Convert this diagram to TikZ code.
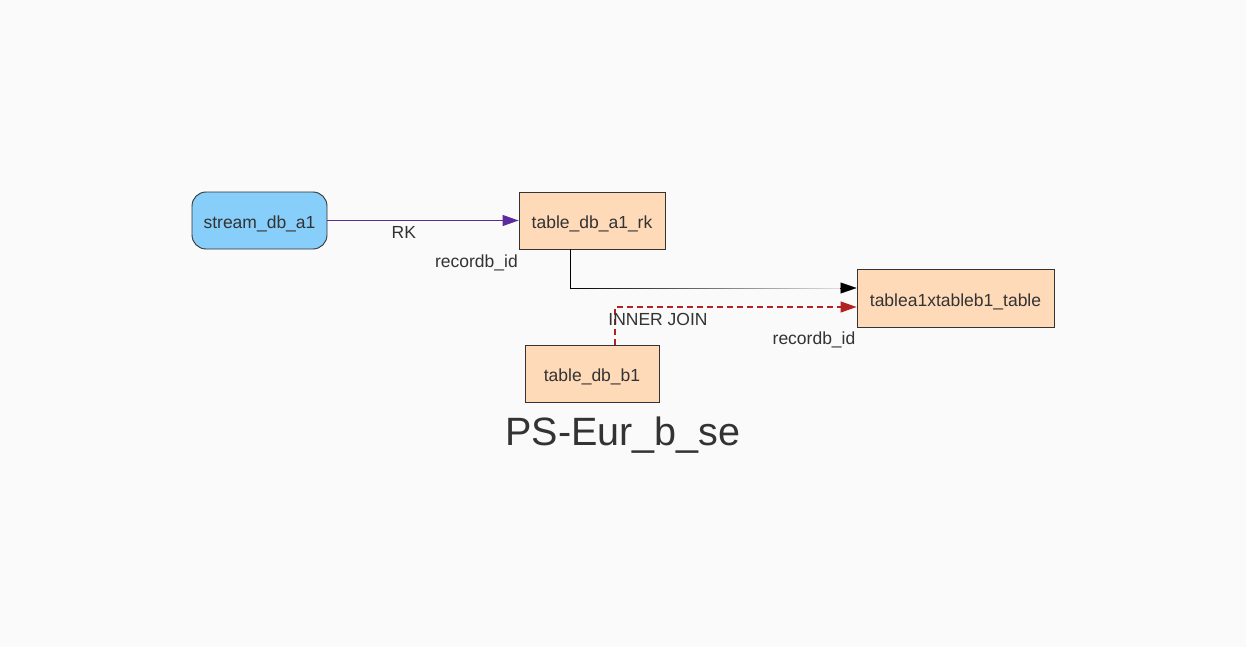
\documentclass[tikz,border=0pt]{standalone}
\usepackage{fontspec}
\setmainfont{Liberation Sans}
\usetikzlibrary{positioning, arrows.meta, fadings}
\definecolor{bgcol}{HTML}{FAFAFA}
\definecolor{ink}{HTML}{333333}
\definecolor{peach}{HTML}{FFDAB9}
\definecolor{skyblue}{HTML}{87CEFA}
\definecolor{rkpurple}{HTML}{5B2A9C}
\definecolor{joinred}{HTML}{B22222}
\tikzfading[name=fadeout, left color=transparent!0, right color=transparent!95]
\tikzset{
    x=1pt, y=-1pt,
    on grid,
    node distance=150pt,
    box/.style={draw=ink, line width=0.9pt, text=ink, minimum height=57pt,
        text height=18.5pt, text depth=2pt, font=\fontsize{17.5}{20}\selectfont},
    tablebox/.style={box, fill=peach},
    streambox/.style={box, fill=skyblue, rounded corners=14pt},
    lbl/.style={text=ink, font=\fontsize{17.5}{20}\selectfont, inner sep=1pt},
    tip/.style={-{Triangle[length=16pt, width=11pt]}},
}

\begin{document}
\begin{tikzpicture}
    \fill[bgcol] (0,0) rectangle (1246,647);
    \useasboundingbox (0,0) rectangle (1246,647);

        \node[streambox, minimum width=135pt] (stream) at (259.5,220.5) {stream\_db\_a1};
        \node[tablebox, minimum width=146pt, right=332.5pt of stream] (rk) {table\_db\_a1\_rk};
        \node[tablebox, minimum width=134pt, below=153pt of rk] (b1) {table\_db\_b1};
        \node[tablebox, minimum width=197pt, minimum height=58pt,
            below right=77.5pt and 363.5pt of rk] (ab) {tablea1xtableb1\_table};
        \node[text=ink, font=\fontsize{39.5}{44}\selectfont,
            below right=62pt and 31pt of b1] (title) {PS-Eur\_b\_se};

    % RK edge
    \draw[rkpurple, line width=1.1pt, tip] (stream) -- (rk)
        node[lbl, pos=0.4, below=4pt] {RK};

    % join of table_db_a1_rk
    \draw[black, line width=0.9pt, path fading=fadeout, shorten >=17pt]
        ([xshift=-22pt]rk.south) |- ([yshift=10pt]ab.west);
    \draw[black, tip] ([xshift=-17pt, yshift=10pt]ab.west) -- ([yshift=10pt]ab.west);
    \node[lbl, anchor=east] (keya) at ([xshift=-73pt, yshift=-13pt]rk.south) {recordb\_id};

    % inner join of table_db_b1
    \draw[joinred, line width=1.2pt, dash pattern=on 6pt off 4pt, tip]
        ([xshift=23pt]b1.north) |- ([yshift=-9pt]ab.west);
    \node[lbl] (join) at ([xshift=66pt, yshift=25pt]b1.north) {INNER JOIN};
    \node[lbl, anchor=east] (keyb) at ([yshift=-12pt]ab.south west) {recordb\_id};
\end{tikzpicture}
\end{document}
